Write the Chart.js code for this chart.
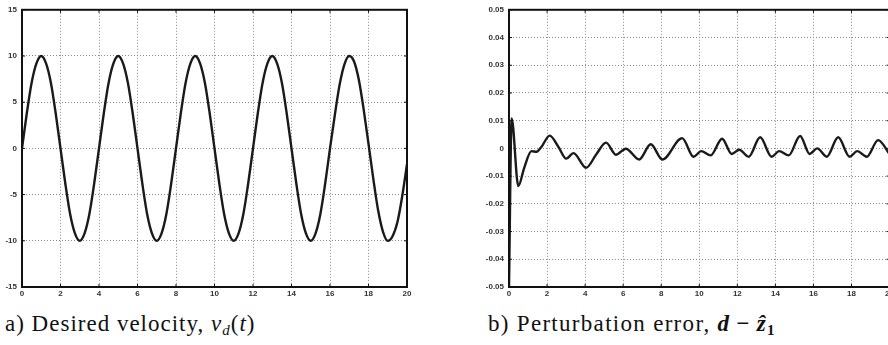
<!DOCTYPE html>
<html lang="en">
<head>
<meta charset="UTF-8">
<title>Desired velocity and perturbation error</title>
<script src="https://cdn.jsdelivr.net/npm/chart.js"></script>
<style>
  html, body { margin: 0; padding: 0; background: #fff; }
  body { width: 888px; height: 345px; overflow: hidden; position: relative; }
  .box { position: absolute; top: 0; }
  #boxA { left: 0; width: 420px; height: 300px; }
  #boxB { left: 477px; width: 419px; height: 300px; }
  .cap { position: absolute; top: 311px; font-family: 'Liberation Serif', 'Times New Roman', serif; font-size: 23px; color: #111; white-space: nowrap; letter-spacing: 1px; }
  .cap sub { font-size: 15px; vertical-align: -4px; }
  .cap .op { margin: 0 6px; }
  #capA { left: 5px; }
  #capB { left: 488px; letter-spacing: 1.3px; }
</style>
</head>
<body>
<div class="box" id="boxA"><canvas id="velChart"></canvas></div>
<div class="box" id="boxB"><canvas id="errChart"></canvas></div>
<div class="cap" id="capA">a) Desired velocity, <i>v<sub>d</sub></i>(<i>t</i>)</div>
<div class="cap" id="capB">b) Perturbation error, <b><i>d</i><span class="op">−</span><i>ẑ</i><sub>1</sub></b></div>

<script>
// a) desired velocity, sampled every 0.25 s
const velT = [0,0.25,0.5,0.75,1,1.25,1.5,1.75,2,2.25,2.5,2.75,3,3.25,3.5,3.75,
  4,4.25,4.5,4.75,5,5.25,5.5,5.75,6,6.25,6.5,6.75,7,7.25,7.5,7.75,
  8,8.25,8.5,8.75,9,9.25,9.5,9.75,10,10.25,10.5,10.75,11,11.25,11.5,11.75,
  12,12.25,12.5,12.75,13,13.25,13.5,13.75,14,14.25,14.5,14.75,15,15.25,15.5,15.75,
  16,16.25,16.5,16.75,17,17.25,17.5,17.75,18,18.25,18.5,18.75,19,19.25,19.5,19.75,20];
const velV = [0,3.8,7.1,9.2,10,9.2,7.1,3.8,0,-3.8,-7.1,-9.2,-10,-9.2,-7.1,-3.8,
  0,3.8,7.1,9.2,10,9.2,7.1,3.8,0,-3.8,-7.1,-9.2,-10,-9.2,-7.1,-3.8,
  0,3.8,7.1,9.2,10,9.2,7.1,3.8,0,-3.8,-7.1,-9.2,-10,-9.2,-7.1,-3.8,
  0,3.8,7.1,9.2,10,9.2,7.1,3.8,0,-3.8,-7.1,-9.2,-10,-9.2,-7.1,-3.8,
  0,3.6,6.9,9.1,10,9.4,7.4,4.2,0.5,-3.3,-6.7,-9.0,-10,-9.5,-8.0,-5.2,-1.7];

// b) perturbation error (read at extrema)
const errT = [0,0.14,0.49,0.8,1.18,1.45,1.7,2.14,2.6,3.01,3.39,4.05,4.6,5.1,5.62,6.14,6.84,7.45,8.06,9.1,
  9.7,10.1,10.6,11.2,11.7,12.1,12.6,13.2,13.8,14.2,14.7,15.3,15.8,16.2,16.7,17.3,17.9,18.3,18.8,19.4,20];
const errV = [-0.05,0.0108,-0.0136,-0.007,-0.001,-0.0012,0.0005,0.0046,0.0005,-0.0037,-0.0017,-0.007,-0.002,0.0021,-0.0023,-0.0001,-0.004,0.0015,-0.004,0.0037,
  -0.003,-0.001,-0.0025,0.0035,-0.002,-0.0005,-0.003,0.004,-0.003,-0.001,-0.0025,0.0045,-0.002,0.0,-0.003,0.004,-0.003,-0.001,-0.003,0.003,-0.002];

const xTicksMax = 20, xStep = 2;

const framePlugin = {
  id: 'frame',
  afterDraw(chart) {
    const { ctx, chartArea: a, scales } = chart;
    ctx.save();
    ctx.strokeStyle = '#111';
    ctx.lineWidth = 1;
    ctx.beginPath();
    scales.x.ticks.forEach(t => {
      const px = scales.x.getPixelForValue(t.value);
      ctx.moveTo(px, a.top); ctx.lineTo(px, a.top + 3);
      ctx.moveTo(px, a.bottom); ctx.lineTo(px, a.bottom - 3);
    });
    scales.y.ticks.forEach(t => {
      const py = scales.y.getPixelForValue(t.value);
      ctx.moveTo(a.left, py); ctx.lineTo(a.left + 3, py);
      ctx.moveTo(a.right, py); ctx.lineTo(a.right - 3, py);
    });
    ctx.stroke();
    ctx.lineWidth = 2;
    ctx.strokeRect(a.left, a.top, a.right - a.left, a.bottom - a.top);
    ctx.restore();
  }
};

function makeChart(id, xs, ys, yMin, yMax, yStep, yAxisW, padRight, yFmt) {
  const pts = xs.map((x, i) => ({ x: x, y: ys[i] }));
  return new Chart(document.getElementById(id), {
    type: 'line',
    data: { datasets: [{ data: pts, borderColor: '#1a1a1a', borderWidth: 2.4, pointRadius: 0,
      cubicInterpolationMode: 'monotone', fill: false }] },
    options: {
      responsive: true, maintainAspectRatio: false, animation: false,
      layout: { padding: { top: 7, right: padRight, left: 0, bottom: 0 } },
      plugins: { legend: { display: false }, tooltip: { enabled: false } },
      scales: {
        x: {
          type: 'linear', min: 0, max: xTicksMax,
          afterFit: s => { s.height = 13; },
          ticks: { stepSize: xStep, padding: 2, color: '#333', maxRotation: 0,
            font: { family: 'Liberation Sans', size: 8, weight: 'bold' } },
          grid: { color: '#8a8a8a', lineWidth: 1, drawTicks: false },
          border: { display: true, color: '#111', width: 2, dash: [1, 2] }
        },
        y: {
          min: yMin, max: yMax,
          afterFit: s => { s.width = yAxisW; },
          ticks: { stepSize: yStep, padding: 5, color: '#333', callback: yFmt,
            font: { family: 'Liberation Sans', size: 8, weight: 'bold' } },
          grid: { color: '#8a8a8a', lineWidth: 1, drawTicks: false },
          border: { display: true, color: '#111', width: 2, dash: [1, 2] }
        }
      }
    },
    plugins: [framePlugin]
  });
}

makeChart('velChart', velT, velV, -15, 15, 5, 22, 13, v => String(v));
makeChart('errChart', errT, errV, -0.05, 0.05, 0.01, 32, 5,
  v => Math.abs(v) < 1e-9 ? '0' : v.toFixed(2));
</script>
</body>
</html>
